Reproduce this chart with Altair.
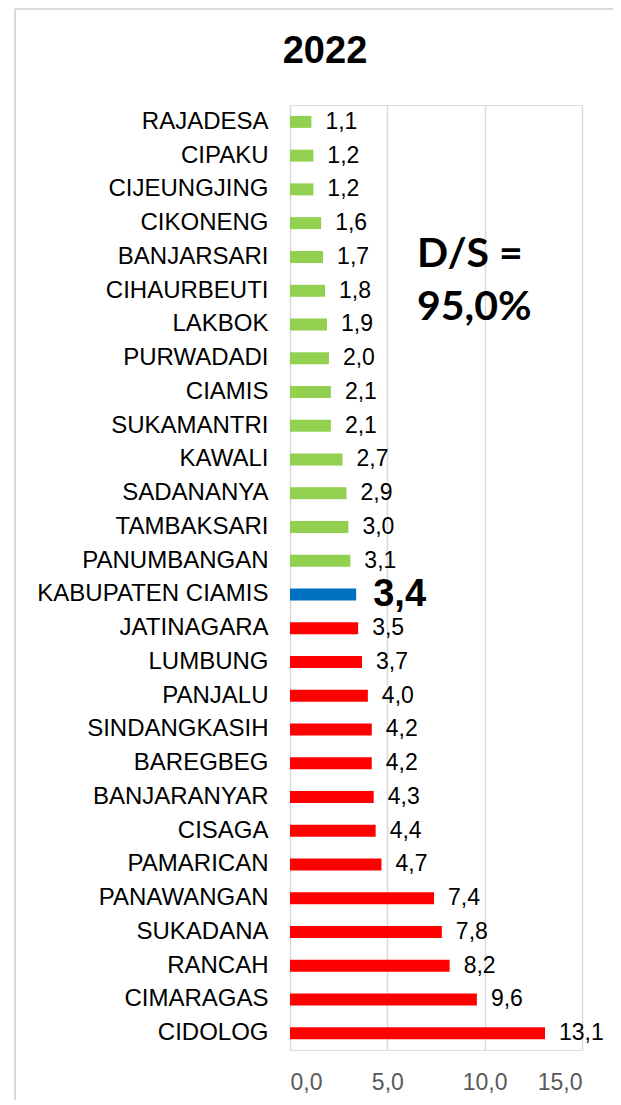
import altair as alt
import pandas as pd

kecamatan = [
    "RAJADESA", "CIPAKU", "CIJEUNGJING", "CIKONENG", "BANJARSARI", "CIHAURBEUTI",
    "LAKBOK", "PURWADADI", "CIAMIS", "SUKAMANTRI", "KAWALI", "SADANANYA",
    "TAMBAKSARI", "PANUMBANGAN", "KABUPATEN CIAMIS", "JATINAGARA", "LUMBUNG",
    "PANJALU", "SINDANGKASIH", "BAREGBEG", "BANJARANYAR", "CISAGA", "PAMARICAN",
    "PANAWANGAN", "SUKADANA", "RANCAH", "CIMARAGAS", "CIDOLOG",
]
nilai = [
    1.1, 1.2, 1.2, 1.6, 1.7, 1.8,
    1.9, 2.0, 2.1, 2.1, 2.7, 2.9,
    3.0, 3.1, 3.4, 3.5, 3.7,
    4.0, 4.2, 4.2, 4.3, 4.4, 4.7,
    7.4, 7.8, 8.2, 9.6, 13.1,
]
total_label = "KABUPATEN CIAMIS"
title_text = "2022"
ds_line1 = "D/S ="
ds_line2 = "95,0%"
x_ticks = [0, 5, 10, 15]

df = pd.DataFrame({"kec": kecamatan, "val": nilai})
kab_val = df.loc[df.kec == total_label, "val"].iloc[0]
df["grp"] = [
    "kab" if k == total_label else ("low" if v < kab_val else "high")
    for k, v in zip(df.kec, df.val)
]

FONT = "Liberation Sans, Arial, sans-serif"
fmt = "replace(format(datum.val, '.1f'), '.', ',')"

y_enc = alt.Y(
    "kec:N", sort=kecamatan,
    scale=alt.Scale(paddingInner=0, paddingOuter=0),
    axis=alt.Axis(title=None, labelFont=FONT, labelFontSize=24, labelColor="#000000",
                  labelPadding=22, labelLimit=0, ticks=False, domain=False, grid=False),
)
x_scale = alt.Scale(domain=[0, 15], nice=False, zero=True)

base = alt.Chart(df)

bars = base.mark_bar(size=12).encode(
    y=y_enc,
    x=alt.X("val:Q", scale=x_scale,
            axis=alt.Axis(values=x_ticks, title=None, grid=True, gridColor="#d9d9d9",
                          gridWidth=1.5, domain=False, ticks=False,
                          labelExpr="replace(format(datum.value, '.1f'), '.', ',')",
                          labelFont=FONT, labelFontSize=23, labelColor="#595959",
                          labelPadding=21)),
    color=alt.Color("grp:N",
                    scale=alt.Scale(domain=["low", "kab", "high"],
                                    range=["#92D050", "#0070C0", "#FF0000"]),
                    legend=None),
)

labels = base.transform_filter("datum.grp != 'kab'").transform_calculate(
    lbl=fmt
).mark_text(align="left", baseline="middle", dx=14, fontSize=23, font=FONT,
            color="#000000").encode(y=y_enc, x=alt.X("val:Q", scale=x_scale), text="lbl:N")

kab_label = base.transform_filter("datum.grp == 'kab'").transform_calculate(
    lbl=fmt
).mark_text(align="left", baseline="middle", dx=17, dy=1, fontSize=38, fontWeight="bold",
            font=FONT, color="#000000").encode(y=y_enc, x=alt.X("val:Q", scale=x_scale),
                                               text="lbl:N")

title = alt.Chart(pd.DataFrame({"t": [title_text]})).mark_text(
    align="center", baseline="alphabetic", fontSize=38, fontWeight="bold", font=FONT,
    color="#000000"
).encode(x=alt.value(35), y=alt.value(-42), text="t:N")

ds1 = alt.Chart(pd.DataFrame({"t": [ds_line1]})).mark_text(
    align="left", baseline="alphabetic", fontSize=41, fontWeight="bold", font="Lato",
    color="#000000"
).encode(x=alt.value(127), y=alt.value(162), text="t:N")

ds2 = alt.Chart(pd.DataFrame({"t": [ds_line2]})).mark_text(
    align="left", baseline="alphabetic", fontSize=41, fontWeight="bold", font="Lato",
    color="#000000"
).encode(x=alt.value(127), y=alt.value(215), text="t:N")

frame_top = alt.Chart(pd.DataFrame({"t": [0]})).mark_rule(
    color="#d9d9d9", strokeWidth=2
).encode(x=alt.value(-275), x2=alt.value(1000), y=alt.value(-96))
frame_left = alt.Chart(pd.DataFrame({"t": [0]})).mark_rule(
    color="#d9d9d9", strokeWidth=2
).encode(x=alt.value(-275), y=alt.value(-96), y2=alt.value(1200))

chart = alt.layer(
    frame_top, frame_left, bars, labels, kab_label, title, ds1, ds2
).properties(
    width=292, height=945,
    padding={"left": 282, "top": 97, "right": 31, "bottom": 50},
    autosize=alt.AutoSizeParams(type="none"),
).configure_view(stroke=None).configure(background="white")

chart.save("out.html", embed_options={"renderer": "svg", "actions": False})
